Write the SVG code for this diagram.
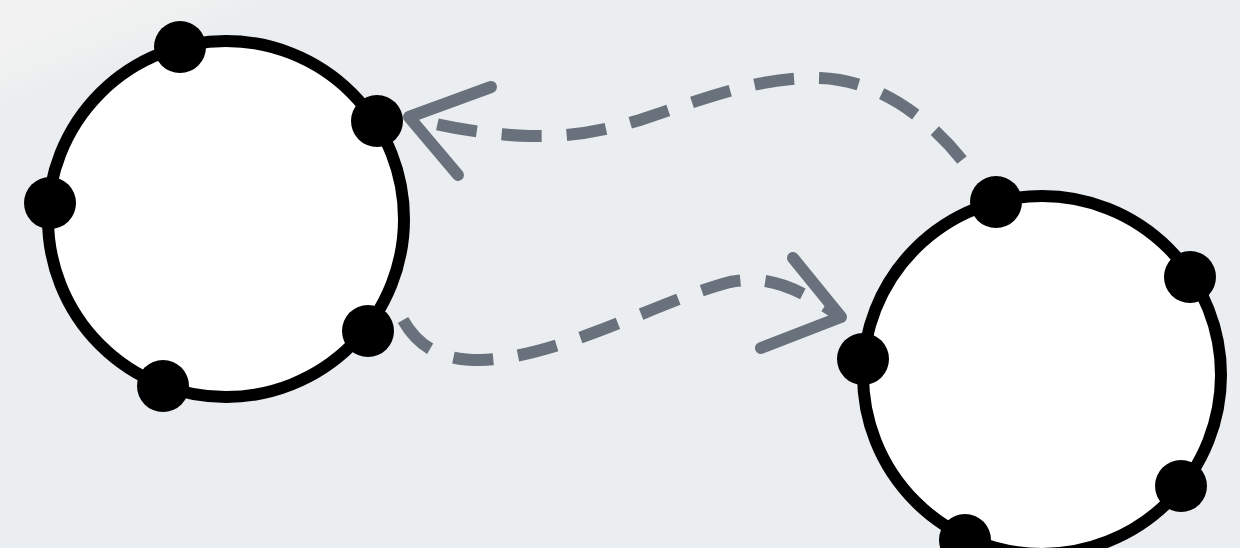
<svg xmlns="http://www.w3.org/2000/svg" width="1240" height="548" viewBox="0 0 1240 548">
  <defs>
    <linearGradient id="bg" gradientUnits="userSpaceOnUse" x1="0" y1="0" x2="36" y2="94">
      <stop offset="0" stop-color="#f3f3f3"/>
      <stop offset="0.7" stop-color="#f0f1f1"/>
      <stop offset="1" stop-color="#eaeef0"/>
    </linearGradient>
    <style>
      .ring { fill: #ffffff; stroke: #000000; stroke-width: 12; }
      .port { fill: #000000; }
      .edge { fill: none; stroke: #69727c; stroke-width: 12; stroke-dasharray: 40 25; stroke-linecap: butt; }
      .head { fill: none; stroke: #69727c; stroke-width: 12; stroke-linecap: round; stroke-linejoin: round; }
    </style>
  </defs>
  <rect x="0" y="0" width="1240" height="548" fill="url(#bg)"/>

  <g id="connectors">
    <path class="edge" d="M962,160 C930,120 880,80 820,78 C760,76 700,100 640,120 C600,132 570,137 530,136 C490,135 450,128 415,119"/>
    <polyline class="head" points="491,87 409,117 458,175"/>
    <path class="edge" d="M403,320 C420,350 445,360 480,360 C560,358 660,300 730,282 C770,274 800,290 835,313"/>
    <polyline class="head" points="793,258 841,317 761,348"/>
  </g>

  <g id="node-left">
    <circle class="ring" cx="226" cy="219" r="178"/>
    <circle class="port" cx="180" cy="47" r="26"/>
    <circle class="port" cx="377" cy="121" r="26"/>
    <circle class="port" cx="50" cy="203" r="26"/>
    <circle class="port" cx="368" cy="331" r="26"/>
    <circle class="port" cx="163" cy="386" r="26"/>
  </g>

  <g id="node-right">
    <circle class="ring" cx="1042" cy="375" r="179"/>
    <circle class="port" cx="996" cy="202" r="26"/>
    <circle class="port" cx="1190" cy="277" r="26"/>
    <circle class="port" cx="863" cy="359" r="26"/>
    <circle class="port" cx="1181" cy="486" r="26"/>
    <circle class="port" cx="965" cy="540" r="26"/>
  </g>
</svg>
